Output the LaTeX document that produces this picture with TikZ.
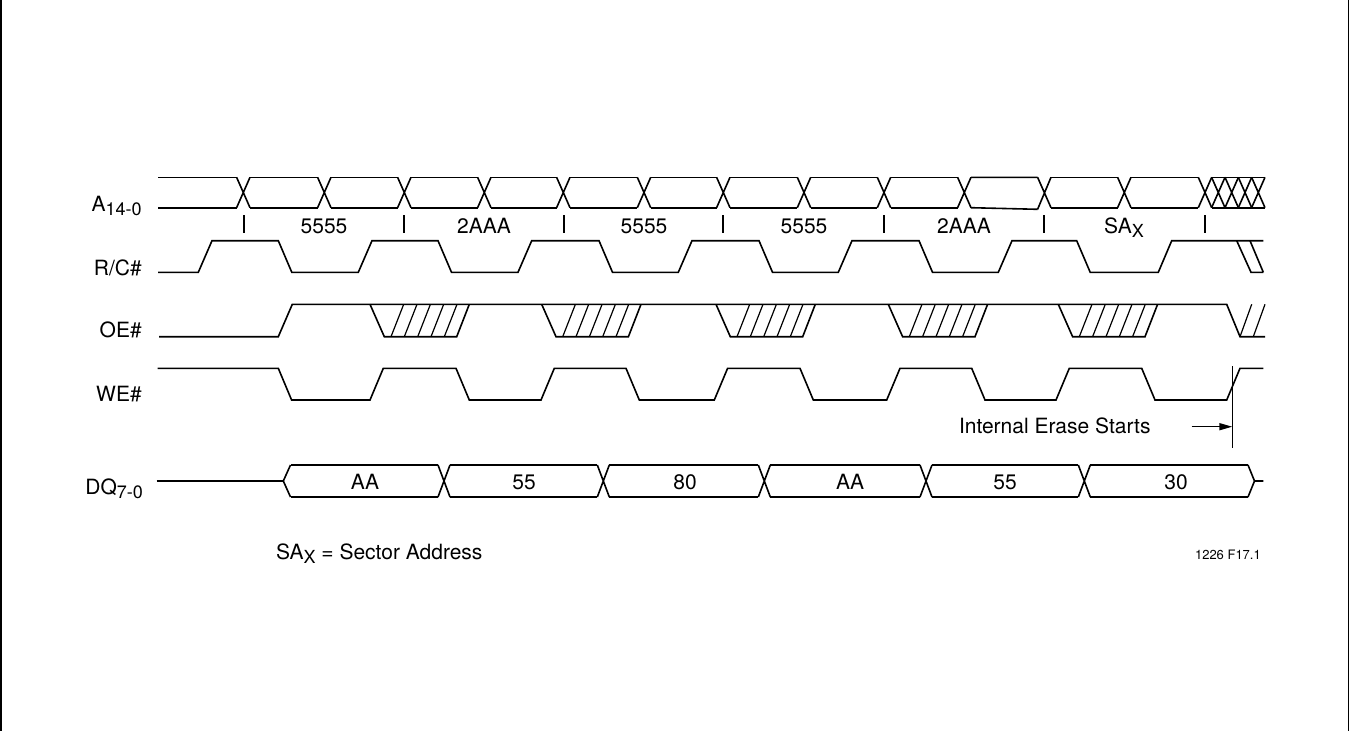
\documentclass[tikz,border=0pt]{standalone}
\usepackage{fontspec}
\setmainfont{TeX Gyre Heros}
\usetikzlibrary{arrows.meta}
\newcommand{\lowsub}[1]{\raisebox{-4pt}{\fontsize{18}{20}\selectfont #1}}
\begin{document}
\begin{tikzpicture}[x=1pt,y=-1pt,
  sig/.style={line width=1.6pt},
  hatchline/.style={line width=1.2pt},
  txt/.style={font=\fontsize{21}{24}\selectfont, inner sep=0pt, outer sep=0pt},
  lbl/.style={txt, anchor=base east},
  val/.style={txt, anchor=base},
  frameline/.style={line width=1.5pt}]

\useasboundingbox (0,0) rectangle (1350,731);
\draw[frameline] (1.2,0) -- (1.2,731) (1348.5,0) -- (1348.5,731);

% ---------- A14-0 ----------
\def\AT{177.3}\def\AB{207.7}
\draw[sig] (158,\AT) -- (236.6,\AT) (158,\AB) -- (236.6,\AB);
\foreach \a/\b/\e in {243.3/324.3/0,324.3/404.3/0,404.3/484.3/0,484.3/563.3/0,563.3/644/0,644/723.3/0,723.3/804/0,804/884/0,884/964.3/0,964.3/1044.3/1.6,1044.3/1124.3/0,1124.3/1205/0}
  \draw[sig] ({\a+6.7},\AT) -- ({\b-6.7},\AT) ({\a+6.7},\AB) -- ({\b-6.7},{\AB+\e});
\foreach \c/\e in {243.3/0,324.3/0,404.3/0,484.3/0,563.3/0,644/0,723.3/0,804/0,884/0,964.3/0,1044.3/1.6,1124.3/0,1205/0,1218.3/0,1231.7/0,1245/0,1258.3/0}
  \draw[sig] ({\c-6.7},\AT) -- ({\c+6.7},\AB) ({\c-6.7},{\AB+\e}) -- ({\c+6.7},\AT);
\draw[sig] (1211.7,\AT) -- (1265,\AT) (1211.7,\AB) -- (1265,\AB);
\foreach \x in {244,404,564,723,884,1044,1205}
  \draw[sig] (\x,215) -- (\x,233);
\node[val] (a1) at (324,233.3) {5555};
\node[val] (a2) at (484,233.3) {2AAA};
\node[val] (a3) at (644,233.3) {5555};
\node[val] (a4) at (804,233.3) {5555};
\node[val] (a5) at (964,233.3) {2AAA};
\node[val] (a6) at (1124,233.3) {SA\lowsub{X}};

% ---------- R/C# ----------
\draw[sig] (158,272.3) \foreach \r/\f in {198.3/278.3,358.3/438,518/599,678.3/759,838.3/919,998.3/1076.7} { -- (\r,272.3) -- ({\r+13.7},240.7) -- (\f,240.7) -- ({\f+13.5},272.3) } -- (1158.3,272.3) -- (1171.7,240.7) -- (1263.3,240.7);
\draw[sig] (1236.7,240.7) -- (1251,272.3) -- (1263.3,272.3) (1250,240.7) -- (1263.3,272.3);

% ---------- OE# ----------
\draw[sig] (159,336.7) -- (278.3,336.7) -- (292.3,304.3) -- (1226.7,304.3) -- (1240,336.7) -- (1265,336.7);
\foreach \f in {370,541.7,716,888.3,1058.3} {
  \draw[sig] (\f,304.3) -- ({\f+14.3},336.7) -- ({\f+86.7},336.7) -- ({\f+99.3},304.3);
  \foreach \k in {21,34.3,47.7,61,74.3}
    \draw[hatchline] ({\f+\k},336.7) -- ({\f+\k+12.7},304.3);
}
\draw[hatchline] (1240,336.7) -- (1251.7,304.3) (1253.3,336.7) -- (1265,304.3);

% ---------- WE# ----------
\draw[sig] (157.7,368.3) \foreach \f/\r in {278.3/370,456/541,626/714.3,800/886.7,971.7/1056,1141.7/1226.7} { -- (\f,368.3) -- ({\f+13.3},400) -- (\r,400) -- ({\r+13.3},368.3) } -- (1263.3,368.3);

% ---------- Internal erase marker ----------
\coordinate (iestop) at (1232.3,366);
\coordinate (iesbot) at (1232.3,448.3);
\coordinate (ies) at (1232.3,426.7);
\coordinate (iesfrom) at (1191.7,426.7);
\draw[line width=1.5pt] (iestop) -- (iesbot);
\draw[line width=1.5pt,-{Triangle[length=13pt,width=7pt]}] (iesfrom) -- (ies);
\node[txt, anchor=base west] (iesl) at (959,433.3) {Internal Erase Starts};

% ---------- DQ7-0 ----------
\def\DT{465}\def\DB{497}\def\DM{481}
\draw[sig] (156.7,\DM) -- (283.3,\DM);
\draw[sig] (290.5,\DT) -- (283.3,\DM) -- (290.5,\DB);
\foreach \a/\b in {290.5/438,450/597.3,609.3/758.3,770.3/920,932/1078.3,1090.3/1248}
  \draw[sig] (\a,\DT) -- (\b,\DT) (\a,\DB) -- (\b,\DB);
\foreach \c in {444,603.3,764.3,926,1084.3}
  \draw[sig] ({\c-6},\DT) -- ({\c+6},\DB) ({\c-6},\DB) -- ({\c+6},\DT);
\draw[sig] (1248,\DT) -- (1254.5,\DM) -- (1248,\DB) (1254.5,\DM) -- (1263.3,\DM);
\node[val] (d1) at (365,489) {AA};
\node[val] (d2) at (524,489) {55};
\node[val] (d3) at (685,489) {80};
\node[val] (d4) at (850,489) {AA};
\node[val] (d5) at (1005,489) {55};
\node[val] (d6) at (1176,489) {30};

% ---------- signal names ----------
\node[lbl] (la) at (141.7,211.7) {A\lowsub{14-0}};
\node[lbl] (lrc) at (141.7,275.5) {R/C\#};
\node[lbl] (loe) at (141.7,337.5) {OE\#};
\node[lbl] (lwe) at (141.7,401.5) {WE\#};
\node[lbl] (ldq) at (143,494) {DQ\lowsub{7-0}};

% ---------- notes ----------
\node[txt, anchor=base west] (sax) at (276,559) {SA\lowsub{X} = Sector Address};
\node[font=\fontsize{13}{15}\selectfont, anchor=base east, inner sep=0pt] (fig) at (1261,559.5) {1226 F17.1};
\end{tikzpicture}
\end{document}
